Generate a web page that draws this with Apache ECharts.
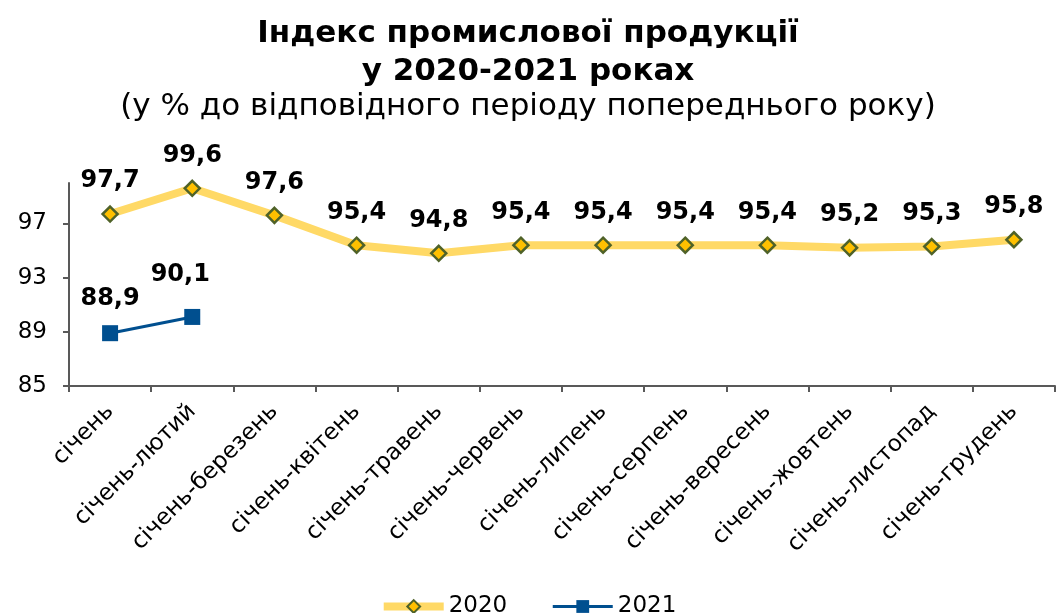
<!DOCTYPE html>
<html>
<head>
<meta charset="utf-8">
<script src="https://cdn.jsdelivr.net/npm/echarts@6/dist/echarts.min.js"></script>
<style>
  html,body{margin:0;padding:0;background:#fff;}
  #chart{width:1056px;height:613px;}
</style>
</head>
<body>
<div id="chart"></div>
<script>
const months = ['січень','січень-лютий','січень-березень','січень-квітень','січень-травень','січень-червень',
  'січень-липень','січень-серпень','січень-вересень','січень-жовтень','січень-листопад','січень-грудень'];
const values2020 = [97.7, 99.6, 97.6, 95.4, 94.8, 95.4, 95.4, 95.4, 95.4, 95.2, 95.3, 95.8];
const values2021 = [88.9, 90.1];

const FONT = 'DejaVu Sans';
const fmt = v => String(v).replace('.', ',');

const chart = echarts.init(document.getElementById('chart'));
chart.setOption({
  animation:false,
  textStyle:{fontFamily:FONT},
  title:[
    {text:'Індекс промислової продукції\nу 2020-2021 роках', left:'center', top:10,
     textStyle:{fontFamily:FONT, fontWeight:'bold', fontSize:31, lineHeight:38, color:'#000'}},
    {text:'(у % до відповідного періоду попереднього року)', left:'center', top:86,
     textStyle:{fontFamily:FONT, fontWeight:'normal', fontSize:31, color:'#000'}}
  ],
  legend:{top:590, left:'center', itemWidth:60, itemHeight:16, itemGap:44,
    lineStyle:{width:'inherit'},
    textStyle:{fontFamily:FONT, fontSize:23, color:'#000'},
    data:['2020','2021']},
  grid:{left:69, right:1, top:183, bottom:227, containLabel:false},
  xAxis:{type:'category', data:months, boundaryGap:true,
    axisLine:{lineStyle:{color:'#595959', width:2}},
    axisTick:{show:true, length:6, lineStyle:{color:'#595959', width:2}},
    axisLabel:{rotate:45, fontSize:23, color:'#000', margin:22, fontFamily:FONT}},
  yAxis:{type:'value', min:85, max:99.99, interval:4,
    splitLine:{show:false},
    axisLine:{show:true, lineStyle:{color:'#595959', width:2}},
    axisTick:{show:true, length:6, lineStyle:{color:'#595959', width:2}},
    axisLabel:{fontSize:23, color:'#000', margin:22, showMaxLabel:false, fontFamily:FONT}},
  series:[
    {name:'2020', type:'line', data:values2020,
     lineStyle:{color:'#FFD966', width:8},
     itemStyle:{color:'#FFC000', borderColor:'#4F6228', borderWidth:2.5},
     symbol:'diamond', symbolSize:15,
     label:{show:true, position:'top', distance:12, fontSize:24, fontWeight:'bold', color:'#000',
       fontFamily:FONT, formatter:p=>fmt(p.value)}},
    {name:'2021', type:'line',
     data:values2021.map((v,i)=> i===1 ? {value:v, label:{offset:[-12,-8]}} : v),
     lineStyle:{color:'#004F8F', width:3},
     itemStyle:{color:'#004F8F'},
     symbol:'rect', symbolSize:16,
     label:{show:true, position:'top', distance:14, fontSize:24, fontWeight:'bold', color:'#000',
       fontFamily:FONT, formatter:p=>fmt(p.value)}}
  ]
});
</script>
</body>
</html>
